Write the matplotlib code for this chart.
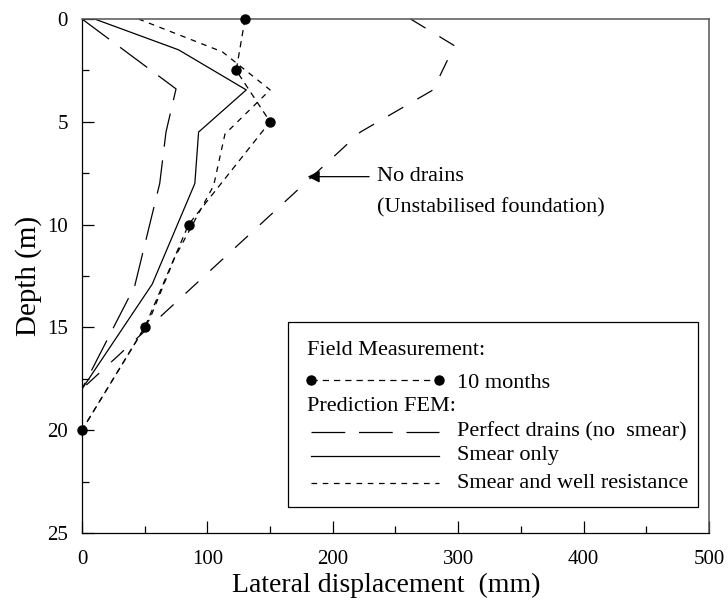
import matplotlib
matplotlib.use("Agg")
import matplotlib.pyplot as plt
from matplotlib.patches import Rectangle
from matplotlib.ticker import MultipleLocator

plt.rcParams["font.family"] = ["Liberation Serif", "DejaVu Serif"]

# Lateral displacement (mm) against depth (m)
field_x = [130, 123, 150, 85, 50, 0]
field_depth = [0, 2.5, 5, 10, 15, 20]

perfect_x = [0, 75, 67, 62, 42, 0]
perfect_depth = [0, 3.4, 5.5, 8, 13, 18]

smear_x = [10, 77, 131, 93, 90, 56, 0]
smear_depth = [0, 1.5, 3.45, 5.5, 8, 12.9, 18]

smear_well_x = [45, 112, 150, 114, 105, 74, 54, 0]
smear_well_depth = [0, 1.6, 3.45, 5.6, 8.1, 11.6, 14.6, 20]

no_drain_x = [262, 297, 280, 222, 0]
no_drain_depth = [0, 1.3, 3.45, 5.5, 18]

styles = {
    "field": dict(color="black", lw=0.9, dashes=(5, 4), marker="o", ms=6.5),
    "perfect": dict(color="black", lw=0.9, dashes=(27, 11)),
    "smear": dict(color="black", lw=0.9),
    "smear_well": dict(color="black", lw=0.9, dashes=(4.5, 4.5)),
    "no_drain": dict(color="black", lw=0.9, dashes=(14, 13)),
}

fig = plt.figure(figsize=(7.28, 6.08), dpi=100)
ax = fig.add_axes([0.1126, 0.1234, 0.8613, 0.8454])

ax.plot(no_drain_x, no_drain_depth, **styles["no_drain"])
ax.plot(perfect_x, perfect_depth, **styles["perfect"])
ax.plot(smear_x, smear_depth, **styles["smear"])
ax.plot(smear_well_x, smear_well_depth, **styles["smear_well"])
ax.plot(field_x, field_depth, clip_on=False, zorder=5, **styles["field"])

ax.set_xlim(0, 500)
ax.set_ylim(25, 0)
ax.xaxis.set_major_locator(MultipleLocator(100))
ax.xaxis.set_minor_locator(MultipleLocator(50))
ax.yaxis.set_major_locator(MultipleLocator(5))
ax.yaxis.set_minor_locator(MultipleLocator(2.5))
ax.tick_params(which="both", direction="in", labelsize=15, width=0.9)
ax.tick_params(which="major", length=8.5)
ax.tick_params(which="minor", length=5)
ax.tick_params(axis="x", pad=12)
ax.tick_params(axis="y", pad=10)
for side in ["left", "bottom"]:
    ax.spines[side].set_linewidth(0.9)
for side in ["top", "right"]:
    ax.spines[side].set_color("#555555")
    ax.spines[side].set_linewidth(1.1)

ax.set_xlabel("Lateral displacement  (mm)", fontsize=20)
ax.xaxis.set_label_coords(0.486, -0.077)
ax.set_ylabel("Depth (m)", fontsize=21, labelpad=4)

# Arrow pointing at the unstabilised curve
ax.annotate("", xy=(180, 7.67), xytext=(229, 7.67),
            arrowprops=dict(arrowstyle="-|>", color="black", lw=0.9,
                            mutation_scale=18, shrinkA=0, shrinkB=0))
ax.text(235, 7.67, "No drains", fontsize=16, va="center")
ax.text(235, 9.2, "(Unstabilised foundation)", fontsize=16, va="center")

# Legend box drawn in axes fraction
tr = ax.transAxes
ax.add_patch(Rectangle((0.3285, 0.0506), 0.654, 0.3599, transform=tr,
                       fill=False, lw=0.9, ec="black", zorder=6))
x0, x1, xt = 0.3652, 0.5694, 0.598
ax.text(0.3583, 0.3547, "Field Measurement:", transform=tr, fontsize=16,
        va="center")
ax.plot([x0, x1], [0.2977, 0.2977], transform=tr, **styles["field"])
ax.text(xt, 0.2917, "10 months", transform=tr, fontsize=16, va="center")
ax.text(0.3583, 0.2457, "Prediction FEM:", transform=tr, fontsize=16,
        va="center")
rows = [("perfect", 0.196, "Perfect drains (no  smear)"),
        ("smear", 0.1504, "Smear only"),
        ("smear_well", 0.0967, "Smear and well resistance")]
for key, yy, label in rows:
    ax.plot([x0, x1], [yy, yy], transform=tr, **styles[key])
    ax.text(xt, yy, label, transform=tr, fontsize=16, va="center")

fig.savefig("out.png", dpi=100)
